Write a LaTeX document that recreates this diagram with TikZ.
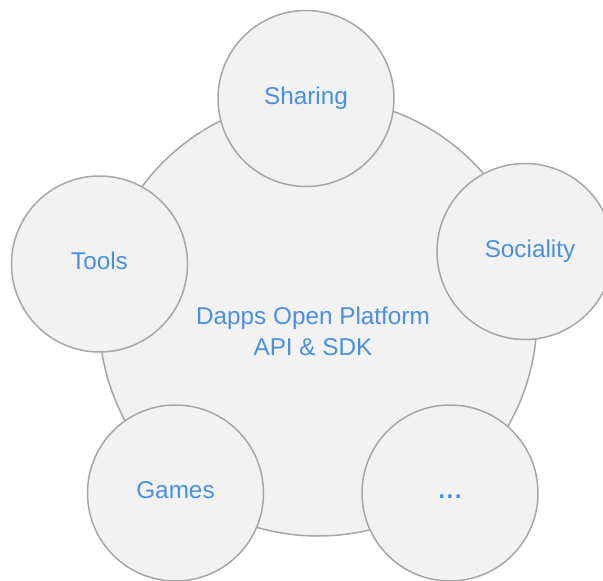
\documentclass[tikz,border=0pt]{standalone}
\usepackage{fontspec}
\setmainfont{Liberation Sans}
\begin{document}
\begin{tikzpicture}[x=1pt,y=-1pt,
  bubble/.style={circle,draw=black!35,line width=1.5pt,fill=black!5,inner sep=0pt,minimum size=176pt,
    text=labelblue,font=\fontsize{24.3}{29}\selectfont},
  corecircle/.style={circle,draw=black!35,line width=1.5pt,fill=black!5,inner sep=0pt,minimum size=438pt},
  coretxt/.style={text=labelblue,align=center,font=\fontsize{24.3}{31}\selectfont}]
\definecolor{labelblue}{HTML}{4A90E2}
\useasboundingbox (0,0) rectangle (603,581);
\node[corecircle] (core) at (318,317) {};
\node[coretxt] (coretext) at (313,331) {Dapps Open Platform\\API \& SDK};
\node[bubble] (sharing) at (306,98.5) {\strut Sharing};
\node[bubble] (sociality) at (525,251.5) {\hspace*{10pt}\strut Sociality};
\node[bubble] (tools) at (99.5,264) {\strut Tools};
\node[bubble] (games) at (175.5,493) {\strut Games};
\node[bubble] (more) at (450,493) {\strut\bfseries .\kern1.5pt.\kern1.5pt.};
\end{tikzpicture}
\end{document}
